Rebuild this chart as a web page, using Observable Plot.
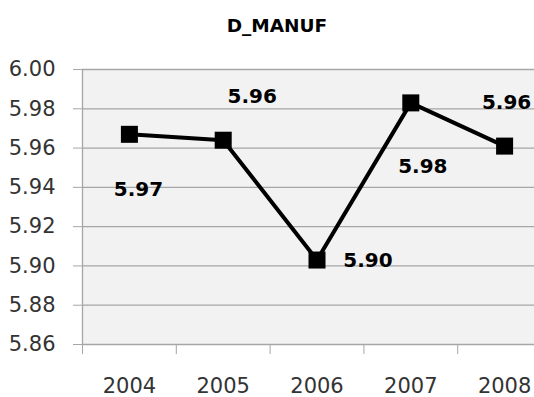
<!DOCTYPE html>
<html>
<head>
<meta charset="utf-8">
<script src="https://cdn.jsdelivr.net/npm/d3@7"></script>
<script src="https://cdn.jsdelivr.net/npm/@observablehq/plot@0.6"></script>
<style>
  body { margin: 0; background: #fff; overflow: hidden; width: 534px; height: 397px; }
  #title {
    height: 48px; box-sizing: border-box; padding-top: 17px; padding-left: 20px;
    text-align: center; font: bold 18.5px/18.5px "DejaVu Sans", sans-serif; color: #000;
  }
  #chart svg { display: block; overflow: hidden; }
</style>
</head>
<body>
<div id="title">D_MANUF</div>
<div id="chart"></div>
<script>
// Yearly series
const years = [2004, 2005, 2006, 2007, 2008];
const values = [5.967, 5.964, 5.903, 5.983, 5.961];
const yTicks = [5.86, 5.88, 5.90, 5.92, 5.94, 5.96, 5.98, 6.00];

// Data label offsets in pixels from each point
const labelDx = [9, 29, 51, 12, 2];
const labelDy = [55, -44, 1, 64, -44];

const data = years.map((year, i) => ({year, value: values[i]}));
// Category boundaries (tick marks sit between the years)
const edges = [...years.map(y => y - 0.5), years[years.length - 1] + 0.5];

const gridColor = "#a6a6a6";

const labels = data.map((d, i) =>
  Plot.text([d], {
    x: "year", y: "value",
    text: p => p.value.toFixed(2),
    dx: labelDx[i], dy: labelDy[i],
    fontWeight: "bold", fontSize: 20, fill: "#000"
  })
);

const chart = Plot.plot({
  width: 534,
  height: 349,
  marginTop: 21,
  marginBottom: 53,
  marginLeft: 82,
  marginRight: 0,
  style: {fontFamily: "DejaVu Sans", fontSize: "21px", color: "#333", background: "transparent"},
  x: {type: "linear", domain: [edges[0], edges[edges.length - 1]], range: [82, 551]},
  y: {domain: [yTicks[0], yTicks[yTicks.length - 1]]},
  marks: [
    Plot.frame({fill: "#f2f2f2", stroke: null}),
    Plot.gridY(yTicks, {stroke: gridColor, strokeOpacity: 1, strokeWidth: 1.3}),
    Plot.axisY(yTicks, {tickSize: 9, tickPadding: 18, tickFormat: d => d.toFixed(2), stroke: gridColor, label: null}),
    Plot.ruleX([edges[0]], {stroke: gridColor, strokeWidth: 1.3}),
    Plot.axisX(edges, {tickSize: 10, tickFormat: () => "", stroke: gridColor, label: null}),
    Plot.axisX(years, {tickSize: 0, tickPadding: 34, tickFormat: d => String(d), label: null}),
    Plot.line(data, {x: "year", y: "value", stroke: "#000", strokeWidth: 4}),
    Plot.dot(data, {x: "year", y: "value", symbol: "square", r: 9.6, fill: "#000", stroke: null}),
    ...labels
  ]
});

document.getElementById("chart").append(chart);
</script>
</body>
</html>
